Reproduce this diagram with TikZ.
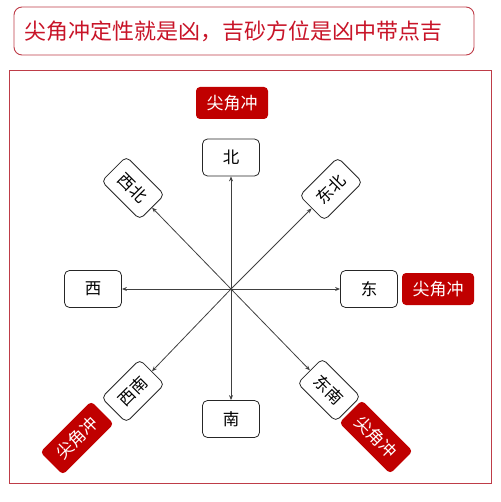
\documentclass[tikz,border=0pt]{standalone}
\usepackage{fontspec}
\setmainfont{Noto Sans CJK SC}
\usepackage{tikz}
\usetikzlibrary{arrows.meta}
\definecolor{tagred}{RGB}{192,0,0}
\definecolor{framered}{RGB}{190,60,72}
\definecolor{titlered}{RGB}{200,20,40}

\begin{document}
\begin{tikzpicture}[x=1pt,y=-1pt,
        dirbox/.style={draw=black!85, line width=0.8pt, rounded corners=5pt,
            minimum width=57pt, minimum height=37pt, inner sep=0pt,
            font=\fontsize{16.5}{16.5}\selectfont},
        diagbox/.style={dirbox, minimum width=54pt, minimum height=35pt},
        tag/.style={fill=tagred, text=white, rounded corners=4pt,
            minimum width=72pt, minimum height=32pt, inner sep=0pt,
            font=\fontsize{17}{17}\selectfont},
        ray/.style={draw=black!75, line width=0.8pt, -{Stealth[length=5pt,width=4pt]}}]
    \useasboundingbox (0,0) rectangle (500,502);
    % title and frame
    \draw[framered, line width=0.9pt, rounded corners=8pt] (14,7) rectangle (474,55);
    \node[anchor=west, text=titlered, font=\fontsize{22}{22}\selectfont] (title) at (21,31)
        {尖角冲定性就是凶，吉砂方位是凶中带点吉};
    \draw[framered, line width=0.9pt] (9,70) rectangle (491,483);
    \coordinate (O) at (231,289);
    % the eight directions
    \node[dirbox] (N) at (231,157.5) {北};
    \node[dirbox] (S) at (231,419) {南};
    \node[dirbox] (W) at (93,289) {西};
    \node[dirbox] (E) at (369,289) {东};
    \node[diagbox, rotate=-45] (NW) at (133,188) {西北};
    \node[diagbox, rotate=45] (NE) at (331,189) {东北};
    \node[diagbox, rotate=45] (SW) at (133,391) {西南};
    \node[diagbox, rotate=-45] (SE) at (329,390) {东南};
    % sharp-corner marks
    \node[tag] (tagN) at (232,103) {尖角冲};
    \node[tag] (tagE) at (438,289) {尖角冲};
    \node[tag, rotate=45] (tagSW) at (77,438) {尖角冲};
    \node[tag, rotate=-45] (tagSE) at (376,437) {尖角冲};
    \foreach \d in {N,S,W,E,NW,NE,SW,SE}
        \draw[ray] (O) -- (\d);
\end{tikzpicture}
\end{document}
